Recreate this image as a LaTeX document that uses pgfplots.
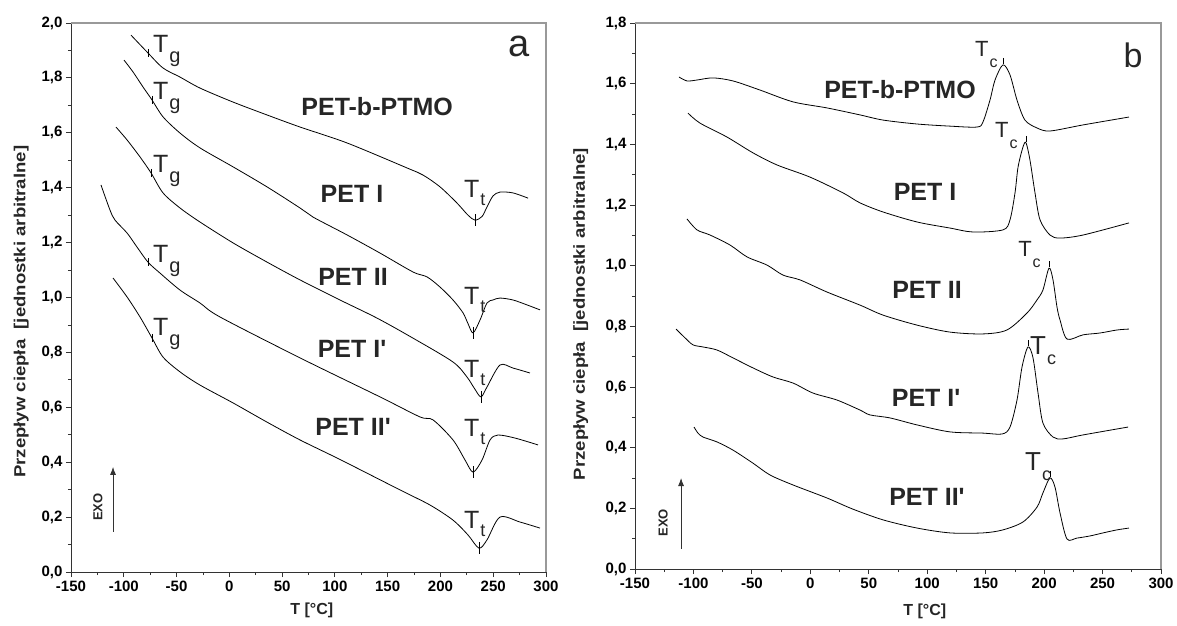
\documentclass[border=0pt]{standalone}
\usepackage{fontspec}
\setmainfont{Liberation Sans}
\usepackage{pgfplots}
\pgfplotsset{compat=1.18}
\usetikzlibrary{arrows.meta}

% T with a subscript: size, subscript size, drop, letter
\newcommand{\Tlab}[4]{{\fontsize{#1}{#1}\selectfont T}\hspace{1pt}\raisebox{-#3pt}{\fontsize{#2}{#2}\selectfont #4}}
\newcommand{\pr}{\textquotesingle}
\newcommand{\ylab}{\scalebox{1.16}[1]{Przepływ ciepła\ \ [jednostki arbitralne]}}

\pgfplotsset{
  dsc/.style={
    scale only axis, anchor=south west, clip=false,
    xmin=-150, xmax=300, xtick={-150,-100,-50,0,50,100,150,200,250,300},
    xticklabels={-150,-100,-50,0,50,100,150,200,250,300},
    minor x tick num=1, minor y tick num=1,
    tick align=outside, major tick length=5pt, minor tick length=3pt,
    tick style={black!80, line width=0.8pt},
    axis x line*=bottom, axis y line*=left,
    axis line style={black!80, line width=1pt, -},
    ticklabel style={font=\bfseries\fontsize{15}{15}\selectfont, text=black},
    label style={font=\bfseries\fontsize{16}{16}\selectfont, text=black!85},
  },
  curve/.style={black, line width=0.8pt, smooth, mark=none},
  tmark/.style={only marks, mark=|, mark size=#1, black, mark options={line width=0.8pt}},
}
\tikzset{
  clab/.style={font=\bfseries\fontsize{25}{25}\selectfont, text=black!85},
  tlab/.style={anchor=base west, inner sep=0pt, text=black!85},
}

\begin{document}
\begin{tikzpicture}
\useasboundingbox (0pt,0pt) rectangle (1177pt,625pt);

% ---------- panel a ----------
\begin{axis}[dsc, at={(71pt,53pt)}, width=475pt, height=549pt,
  ymin=0, ymax=2, ytick={0,0.2,0.4,0.6,0.8,1.0,1.2,1.4,1.6,1.8,2.0},
  yticklabels={{0,0},{0,2},{0,4},{0,6},{0,8},{1,0},{1,2},{1,4},{1,6},{1,8},{2,0}},
  xlabel={T [°C]}, xlabel style={at={(axis description cs:0.507,-0.069)}, anchor=center},
  ylabel={\ylab},
  ylabel style={at={(axis description cs:-0.105,0.474)}, anchor=center}]
\draw[gray!80, line width=1.6pt] (rel axis cs:0,1) -- (rel axis cs:1,1) -- (rel axis cs:1,0);

\addplot[curve] coordinates {(-93.2,1.956) (-77.1,1.891) (-62.8,1.836) (-46.7,1.803) (-27.8,1.763)
 (3.5,1.712) (35.7,1.665) (67.0,1.621) (111.5,1.563) (168.3,1.472) (183.5,1.446) (199.6,1.403)
 (215.7,1.344) (226.1,1.300) (232.7,1.282) (239.4,1.295) (244.1,1.330) (249.8,1.370) (256.4,1.384)
 (268.7,1.381) (283.0,1.362)};
\addplot[curve] coordinates {(-99.8,1.865) (-91.3,1.822) (-81.8,1.767) (-73.3,1.720) (-62.8,1.658)
 (-46.7,1.599) (-27.8,1.545) (3.5,1.476) (35.7,1.403) (67.0,1.326) (79.3,1.293) (111.5,1.228)
 (142.7,1.162) (174.0,1.093) (187.3,1.075) (199.6,1.038) (211.9,0.991) (221.4,0.944) (226.1,0.905)
 (230.9,0.871) (237.5,0.918) (244.1,0.980) (249.8,0.991) (256.4,0.998) (268.7,0.991) (282.0,0.973)
 (294.3,0.955)};
\addplot[curve] coordinates {(-107.4,1.621) (-96.9,1.574) (-84.6,1.512) (-74.2,1.454) (-62.8,1.381)
 (-46.7,1.326) (-27.8,1.275) (3.5,1.199) (35.7,1.129) (67.0,1.064) (104.8,0.991) (139.9,0.925)
 (174.0,0.852) (211.9,0.765) (225.2,0.710) (232.0,0.670) (238.4,0.638) (244.1,0.674) (256.4,0.754)
 (268.7,0.743) (284.8,0.725)};
\addplot[curve] coordinates {(-121.6,1.410) (-113.1,1.319) (-108.3,1.282) (-96.9,1.235) (-87.5,1.184)
 (-77.1,1.129) (-65.7,1.089) (-46.7,1.027) (-27.8,0.980) (-8.8,0.929) (67.0,0.780) (142.7,0.638)
 (180.6,0.565) (193.0,0.554) (211.9,0.481) (223.3,0.408) (230.9,0.364) (239.4,0.408) (247.0,0.481)
 (254.5,0.499) (270.6,0.488) (292.4,0.463)};
\addplot[curve] coordinates {(-110.2,1.071) (-96.9,1.002) (-84.6,0.929) (-73.3,0.853) (-62.8,0.783)
 (-46.7,0.729) (-27.8,0.681) (3.5,0.616) (35.7,0.546) (67.0,0.481) (104.8,0.410) (161.7,0.299)
 (190.1,0.244) (211.9,0.189) (226.1,0.135) (236.5,0.087) (244.1,0.117) (256.4,0.200) (275.4,0.182)
 (294.3,0.160)};

\addplot[tmark=4pt] coordinates {(-77.1,1.891) (-73.3,1.720) (-74.2,1.454) (-77.1,1.129) (-73.3,0.853)};
\addplot[tmark=6pt] coordinates {(232.7,1.282) (230.9,0.871) (238.4,0.638) (230.9,0.364) (236.5,0.087)};

\node[tlab] at (axis cs:-72.3,1.894) {\Tlab{25}{20}{10}{g}};
\node[tlab] at (axis cs:-72.3,1.720) {\Tlab{25}{20}{10}{g}};
\node[tlab] at (axis cs:-72.3,1.457) {\Tlab{25}{20}{10}{g}};
\node[tlab] at (axis cs:-72.3,1.126) {\Tlab{25}{20}{10}{g}};
\node[tlab] at (axis cs:-72.3,0.863) {\Tlab{25}{20}{10}{g}};
\node[tlab] at (axis cs:222.3,1.366) {\Tlab{25}{18}{8}{t}};
\node[tlab] at (axis cs:222.3,0.973) {\Tlab{25}{18}{8}{t}};
\node[tlab] at (axis cs:222.3,0.707) {\Tlab{25}{18}{8}{t}};
\node[tlab] at (axis cs:222.3,0.492) {\Tlab{25}{18}{8}{t}};
\node[tlab] at (axis cs:222.3,0.160) {\Tlab{25}{18}{8}{t}};

\node[clab] at (axis cs:140.0,1.694) {PET-b-PTMO};
\node[clab] at (axis cs:116.2,1.377) {PET I};
\node[clab] at (axis cs:117.2,1.075) {PET II};
\node[clab] at (axis cs:116.2,0.812) {PET I\pr};
\node[clab] at (axis cs:117.2,0.528) {PET II\pr};
\node[font=\fontsize{38}{38}\selectfont, text=black!85] at (axis cs:274.4,1.913) {a};

\draw[-{Latex[length=8pt,width=6pt]}, line width=0.8pt, black!80] (axis cs:-110.2,0.146) -- (axis cs:-110.2,0.383);
\node[rotate=90, font=\bfseries\fontsize{13}{13}\selectfont, text=black!85] at (axis cs:-124.4,0.237) {EXO};
\end{axis}

% ---------- panel b ----------
\begin{axis}[dsc, at={(635pt,56pt)}, width=526pt, height=546pt,
  ymin=0, ymax=1.8, ytick={0,0.2,0.4,0.6,0.8,1.0,1.2,1.4,1.6,1.8},
  yticklabels={{0,0},{0,2},{0,4},{0,6},{0,8},{1,0},{1,2},{1,4},{1,6},{1,8}},
  xlabel={T [°C]}, xlabel style={at={(axis description cs:0.551,-0.077)}, anchor=center},
  ylabel={\ylab},
  ylabel style={at={(axis description cs:-0.103,0.467)}, anchor=center}]
\draw[gray!80, line width=1.6pt] (rel axis cs:0,1) -- (rel axis cs:1,1) -- (rel axis cs:1,0);

\addplot[curve] coordinates {(-112.4,1.622) (-105.5,1.609) (-97.0,1.612) (-83.3,1.619) (-66.2,1.609)
 (-43.1,1.579) (-14.8,1.540) (14.3,1.520) (42.5,1.497) (62.2,1.480) (91.3,1.467) (119.5,1.460)
 (142.6,1.457) (147.7,1.474) (153.7,1.546) (158.0,1.612) (164.8,1.662) (170.8,1.629) (176.8,1.546)
 (183.6,1.480) (193.9,1.454) (205.0,1.444) (233.3,1.464) (272.6,1.490)};
\addplot[curve] coordinates {(-104.7,1.503) (-94.4,1.470) (-71.3,1.424) (-49.1,1.372) (-28.5,1.332)
 (-0.3,1.292) (27.9,1.240) (42.5,1.207) (62.2,1.177) (91.3,1.144) (119.5,1.124) (139.2,1.111)
 (164.8,1.118) (170.8,1.151) (175.1,1.240) (177.7,1.325) (181.9,1.391) (184.5,1.405) (187.9,1.348)
 (192.2,1.240) (196.5,1.151) (205.0,1.101) (213.6,1.091) (233.3,1.101) (272.6,1.141)};
\addplot[curve] coordinates {(-105.5,1.154) (-97.0,1.118) (-85.8,1.101) (-68.7,1.068) (-54.2,1.029)
 (-37.1,1.002) (-23.4,0.969) (-8.8,0.953) (14.3,0.913) (42.5,0.870) (62.2,0.837) (91.3,0.804)
 (119.5,0.781) (147.7,0.775) (168.2,0.788) (185.4,0.844) (193.9,0.887) (199.0,0.920) (204.2,0.992)
 (207.6,0.953) (211.0,0.864) (213.6,0.821) (219.6,0.758) (233.3,0.772) (247.8,0.778) (262.4,0.788)
 (272.6,0.791)};
\addplot[curve] coordinates {(-114.9,0.791) (-107.2,0.762) (-100.4,0.739) (-91.8,0.732) (-79.9,0.722)
 (-66.2,0.696) (-49.1,0.663) (-31.9,0.633) (-14.8,0.613) (2.3,0.580) (22.8,0.557) (42.5,0.524)
 (51.0,0.508) (68.2,0.498) (91.3,0.475) (119.5,0.452) (147.7,0.448) (164.0,0.445) (170.8,0.468)
 (176.8,0.557) (181.1,0.666) (186.2,0.732) (190.5,0.696) (194.8,0.580) (199.0,0.481) (207.6,0.435)
 (216.2,0.429) (233.3,0.442) (271.8,0.468)};
\addplot[curve] coordinates {(-99.5,0.468) (-96.1,0.448) (-91.8,0.435) (-79.9,0.419) (-66.2,0.392)
 (-49.1,0.349) (-34.5,0.310) (-14.8,0.277) (14.3,0.234) (36.0,0.198) (62.2,0.162) (91.3,0.135)
 (119.5,0.119) (147.7,0.119) (164.8,0.129) (181.9,0.155) (193.9,0.204) (199.0,0.251) (205.0,0.300)
 (209.3,0.270) (213.6,0.185) (219.6,0.099) (228.1,0.102) (239.3,0.109) (250.4,0.119) (262.4,0.129)
 (272.6,0.135)};

\addplot[tmark=3pt] coordinates {(164.8,1.675) (184.5,1.418) (204.2,1.005) (186.2,0.745) (205.0,0.313)};

\node[tlab] at (axis cs:140.9,1.688) {\Tlab{22}{16}{11}{c}};
\node[tlab] at (axis cs:158.0,1.424) {\Tlab{22}{16}{11}{c}};
\node[tlab] at (axis cs:177.7,1.029) {\Tlab{22}{16}{11}{c}};
\node[tlab] at (axis cs:187.9,0.706) {\Tlab{26}{18}{10}{c}};
\node[tlab] at (axis cs:183.6,0.326) {\Tlab{26}{18}{10}{c}};

\node[clab] at (axis cs:76.7,1.579) {PET-b-PTMO};
\node[clab] at (axis cs:98.1,1.243) {PET I};
\node[clab] at (axis cs:99.8,0.920) {PET II};
\node[clab] at (axis cs:99.0,0.564) {PET I\pr};
\node[clab] at (axis cs:99.8,0.237) {PET II\pr};
\node[font=\fontsize{34}{34}\selectfont, text=black!85] at (axis cs:276.0,1.695) {b};

\draw[-{Latex[length=8pt,width=6pt]}, line width=0.8pt, black!80] (axis cs:-110.6,0.066) -- (axis cs:-110.6,0.300);
\node[rotate=90, font=\bfseries\fontsize{13}{13}\selectfont, text=black!85] at (axis cs:-126.0,0.152) {EXO};
\end{axis}
\end{tikzpicture}
\end{document}
